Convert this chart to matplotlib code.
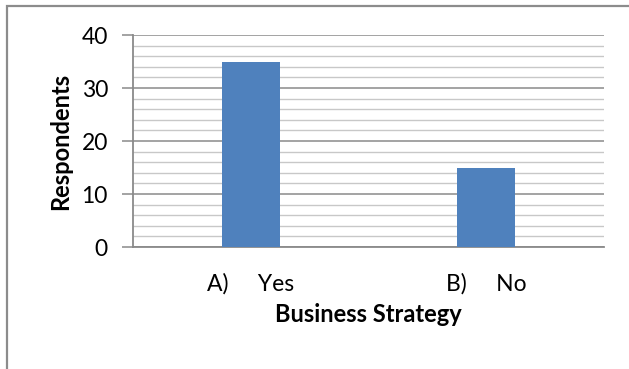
import matplotlib
matplotlib.use('Agg')

import matplotlib.pyplot as plt
from matplotlib.patches import Rectangle
from matplotlib.ticker import MultipleLocator

# 数据
categories = ['A)', 'B)']
answers = ['Yes', 'No']
respondents = [35, 15]

plt.rcParams['font.family'] = ['Lato', 'DejaVu Sans']

fig = plt.figure(figsize=(6.29, 3.69), dpi=100)
ax = fig.add_axes([0.2114, 0.3306, 0.7488, 0.5745])

# 外框（只有左边和上边在画面内）
fig.patches.append(Rectangle((7 / 629, -0.1), 1.2, 1 - 6 / 369 + 0.1,
                             transform=fig.transFigure, fill=False,
                             edgecolor='#8c8c8c', linewidth=1.6))

x = range(len(categories))
ax.bar(x, respondents, width=0.246, color='#4f81bd', zorder=3)

ax.set_xlim(-0.5, 1.5)
ax.set_ylim(0, 40)
ax.yaxis.set_major_locator(MultipleLocator(10))
ax.yaxis.set_minor_locator(MultipleLocator(2))

# 网格线
ax.grid(axis='y', which='minor', color='#c8c8c8', linewidth=1.0, zorder=0)
ax.grid(axis='y', which='major', color='#8a8a8a', linewidth=1.1, zorder=1)

labels = [c + '     ' + a for c, a in zip(categories, answers)]
ax.set_xticks(list(x))
ax.set_xticklabels(labels, fontsize=16.5)
ax.tick_params(axis='x', length=0, pad=19)
ax.tick_params(axis='y', which='major', length=8, width=1.1, color='#8a8a8a',
               labelsize=16.5, pad=10)
ax.tick_params(axis='y', which='minor', length=0)

for side in ['top', 'right']:
    ax.spines[side].set_visible(False)
for side in ['left', 'bottom']:
    ax.spines[side].set_color('#8a8a8a')
    ax.spines[side].set_linewidth(1.3)

ax.set_xlabel('Business Strategy', fontsize=17, fontweight='bold', labelpad=6)
ax.set_ylabel('Respondents', fontsize=17, fontweight='bold', labelpad=7)

fig.savefig('out.png', dpi=100)
